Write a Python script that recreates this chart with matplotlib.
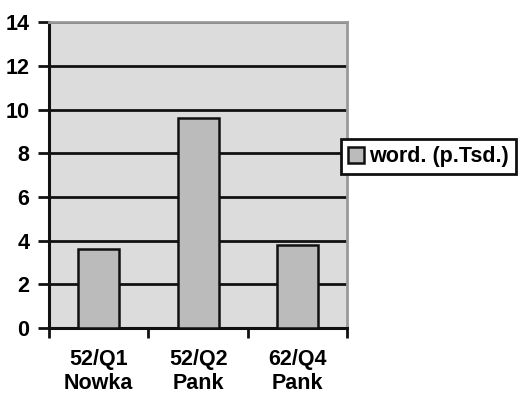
import matplotlib.pyplot as plt
import numpy as np

plt.rcParams['font.family'] = ['Liberation Sans', 'DejaVu Sans']
plt.rcParams['font.weight'] = 'bold'

# quarterly word counts
categories = ["52/Q1\nNowka", "52/Q2\nPank", "62/Q4\nPank"]
values = [3.6, 9.6, 3.8]
series_name = "word. (p.Tsd.)"

fs = 15.5

fig = plt.figure(figsize=(5.18, 3.96), dpi=100)
ax = fig.add_axes([0.0946, 0.1717, 0.576, 0.772])
ax.set_facecolor("#dcdcdc")

x = np.arange(len(categories))
ax.bar(x, values, width=0.41, color="#bbbbbb", edgecolor="#111111",
       linewidth=1.8, zorder=3, label=series_name)

ax.set_xlim(-0.5, len(categories) - 0.5)
ax.set_ylim(0, 14)
ax.set_yticks(np.arange(0, 15, 2))
ax.yaxis.grid(True, color="#111111", linewidth=2)
ax.set_axisbelow(True)

# ticks sit on the category boundaries, labels in between
ax.set_xticks(np.arange(-0.5, len(categories)), minor=False)
ax.set_xticklabels([])
ax.set_xticks(x, minor=True)
ax.set_xticklabels(categories, minor=True, fontsize=fs, fontweight='bold',
                   linespacing=1.2)
ax.tick_params(axis='x', which='minor', length=0, pad=15)
ax.tick_params(axis='x', which='major', length=7, width=2, color="#111111",
               direction='out')
ax.tick_params(axis='y', length=8, width=2, color="#111111", direction='out',
               labelsize=fs, pad=6)
for lbl in ax.get_yticklabels():
    lbl.set_fontweight('bold')

ax.spines['left'].set_color("#111111")
ax.spines['left'].set_linewidth(2.2)
ax.spines['bottom'].set_color("#111111")
ax.spines['bottom'].set_linewidth(2.2)
ax.spines['top'].set_color("#999999")
ax.spines['top'].set_linewidth(2)
ax.spines['right'].set_color("#999999")
ax.spines['right'].set_linewidth(2)

leg = fig.legend(loc='center left', bbox_to_anchor=(0.658, 0.604),
                 frameon=True, fancybox=False, edgecolor="#111111",
                 framealpha=1, fontsize=fs, handlelength=0.75,
                 handleheight=0.75, handletextpad=0.25, borderpad=0.32,
                 borderaxespad=0)
leg.get_frame().set_linewidth(2)
for t in leg.get_texts():
    t.set_fontweight('bold')

fig.savefig("out.png", dpi=100)
